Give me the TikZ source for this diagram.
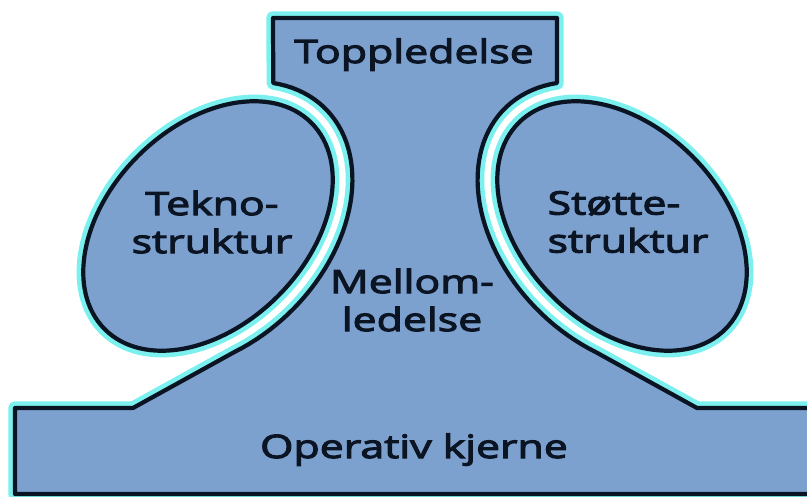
\documentclass[tikz,border=0pt]{standalone}
\usepackage{fontspec}
\setmainfont[FakeStretch=1.33, FakeBold=3.5]{Open Sans}
\usetikzlibrary{positioning}
\definecolor{mzInk}{HTML}{0B1422}
\definecolor{mzFill}{HTML}{7DA1CE}
\definecolor{mzGlow}{HTML}{7CEFEF}
\tikzset{
  glow/.style={draw=mzGlow, line width=9.5pt, line join=round},
  part/.style={draw=mzInk, fill=mzFill, line width=3pt, line join=round, preaction={glow}},
  lbl/.style={font=\fontsize{22.9}{27}\selectfont, text=mzInk, align=center, inner sep=0pt},
  declare function={ex(\t)=0.7071*(166*cos(\t)-119*sin(\t)); ey(\t)=0.7071*(166*cos(\t)+119*sin(\t));},
}

\begin{document}
\begin{tikzpicture}[x=0.025cm, y=-0.025cm]
        \clip (0,0) rectangle (807,497);
        \fill[white] (0,0) rectangle (807,497);
        % body: top, neck and operating core
        \draw[part] (273,18) -- (557,18) -- (557,83)
            -- plot[domain=27.5:-115, samples=50] ({622-ex(\x)},{226-ey(\x)})
            -- (697,408) -- (820,408) -- (820,494) -- (15,494) -- (15,408) -- (133,408)
            -- plot[domain=-115:27.5, samples=50] ({208+ex(\x)},{226-ey(\x)}) -- cycle;
        % the two staff parts
        \draw[part, rotate around={45:(208,226)}] (208,226) ellipse [x radius=146, y radius=99];
        \draw[part, rotate around={-45:(622,226)}] (622,226) ellipse [x radius=146, y radius=99];
        \node[lbl, anchor=base] (topp) at (414,63) {Toppledelse};
        \node[lbl] (tekno) at (212,222) {Tekno-\\struktur};
        \node[lbl, align=left] (stotte) at (628,222) {Støtte-\\struktur};
        \node[lbl] (mellom) at (412,300) {Mellom-\\ledelse};
        \node[lbl, anchor=base] (kjerne) at (414,458) {Operativ kjerne};
    \end{tikzpicture}
\end{document}
